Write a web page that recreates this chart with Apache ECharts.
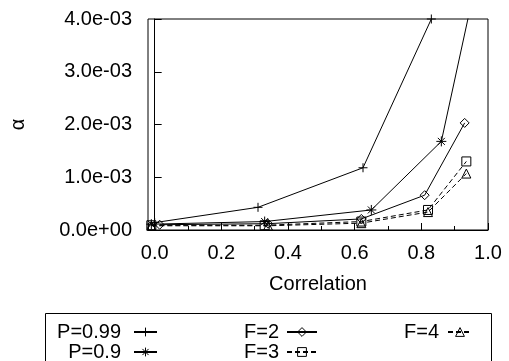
<!DOCTYPE html>
<html>
<head>
<meta charset="utf-8">
<script src="https://cdn.jsdelivr.net/npm/echarts@6/dist/echarts.min.js"></script>
<style>
html,body{margin:0;padding:0;background:#fff;}
#main{width:509px;height:361px;}
</style>
</head>
<body>
<div id="main"></div>
<script>
// ---- data ----
var seriesNames = ['P=0.99', 'P=0.9', 'F=2', 'F=3', 'F=4'];
var p099 = [[0.0, 1.4e-4], [0.31, 4.3e-4], [0.625, 1.18e-3], [0.83, 4.0e-3]];
var p09  = [[-0.01, 1.1e-4], [0.33, 1.6e-4], [0.65, 3.8e-4], [0.86, 1.68e-3], [0.95, 4.3e-3]];
var f2   = [[0.015, 1.0e-4], [0.34, 1.2e-4], [0.62, 2.1e-4], [0.81, 6.6e-4], [0.93, 2.03e-3]];
var f3   = [[-0.01, 9e-5], [0.33, 9e-5], [0.62, 1.6e-4], [0.82, 3.8e-4], [0.935, 1.3e-3]];
var f4   = [[-0.01, 8e-5], [0.34, 8e-5], [0.62, 1.3e-4], [0.82, 3.4e-4], [0.935, 1.07e-3]];
var yTickValues = [0, 1e-3, 2e-3, 3e-3, 4e-3];
var xTickLabels = ['0.0', '0.2', '0.4', '0.6', '0.8', '1.0'];

var FONT = '"Liberation Sans", Arial, Helvetica, sans-serif';
var FS = 20;
var SYM = {
  plus: 'path://M0,5L10,5M5,0L5,10',
  star: 'path://M0,5L10,5M5,0L5,10M1.5,1.5L8.5,8.5M1.5,8.5L8.5,1.5',
  diamond: 'path://M5,0L10,5L5,10L0,5Z',
  square: 'path://M0,0L10,0L10,10L0,10Z',
  triangle: 'path://M5,0L10,9L0,9Z'
};

function mkSeries(name, data, symbol, size, dashed) {
  return {
    name: name, type: 'line', data: data,
    symbol: symbol, symbolSize: size, clip: true,
    lineStyle: {color: '#000', width: 1, type: dashed ? [5, 3] : 'solid'},
    itemStyle: {color: 'rgba(0,0,0,0)', borderColor: '#000', borderWidth: 1},
    emphasis: {disabled: true},
    animation: false
  };
}

function yFmt(v) {
  var s = Number(v).toExponential(1);
  return s.replace(/e([+-])(\d)$/, 'e$10$2');
}

function mkLegend(name, right, top, w, gap) {
  return {
    data: [name], right: right, top: top, align: 'right', padding: 0,
    itemWidth: w, itemHeight: 11,
    itemStyle: {color: 'rgba(0,0,0,0)', borderColor: '#000', borderWidth: 1},
    textStyle: {fontFamily: FONT, fontSize: FS, color: '#000', padding: [0, gap, 0, 0]},
    selectedMode: false
  };
}

var chart = echarts.init(document.getElementById('main'), null, {renderer: 'canvas'});
chart.setOption({
  animation: false,
  backgroundColor: '#fff',
  grid: {left: 148, right: 21, top: 19, bottom: 131, show: true, borderColor: '#000', borderWidth: 1},
  xAxis: {
    type: 'value', min: -0.02, max: 1.0, splitNumber: 5,
    name: 'Correlation', nameLocation: 'middle', nameGap: 44,
    nameTextStyle: {fontFamily: FONT, fontSize: FS, color: '#000'},
    axisLine: {lineStyle: {color: '#000', width: 1}},
    axisTick: {inside: true, length: 7, lineStyle: {color: '#000'}},
    minorTick: {show: true, splitNumber: 2, length: 4, lineStyle: {color: '#000'}},
    splitLine: {show: false},
    axisLabel: {
      showMinLabel: false, margin: 13,
      fontFamily: FONT, fontSize: FS, color: '#000',
      formatter: function (v) {
        var s = Number(v).toFixed(1);
        return xTickLabels.indexOf(s) >= 0 ? s : '';
      }
    }
  },
  yAxis: {
    type: 'value', min: yTickValues[0], max: yTickValues[yTickValues.length - 1], interval: 1e-3,
    name: 'α', nameLocation: 'middle', nameGap: 120, nameRotate: 90,
    nameTextStyle: {fontFamily: FONT, fontSize: FS, color: '#000'},
    axisLine: {lineStyle: {color: '#000', width: 1}},
    axisTick: {inside: true, length: 7, lineStyle: {color: '#000'}},
    splitLine: {show: false},
    axisLabel: {margin: 16, fontFamily: FONT, fontSize: FS, color: '#000', formatter: yFmt}
  },
  legend: [
    mkLegend(seriesNames[0], 351, 322, 23, 8),
    mkLegend(seriesNames[1], 351, 342, 23, 8),
    mkLegend(seriesNames[2], 191, 322, 30, 3),
    mkLegend(seriesNames[3], 191, 342, 30, 3),
    mkLegend(seriesNames[4], 36, 322, 24, 4)
  ],
  graphic: [{
    type: 'rect', silent: true,
    shape: {x: 45.5, y: 313.5, width: 446, height: 60},
    style: {fill: 'none', stroke: '#000', lineWidth: 1}
  }],
  series: [
    mkSeries(seriesNames[0], p099, SYM.plus, 9, false),
    mkSeries(seriesNames[1], p09, SYM.star, 10, false),
    mkSeries(seriesNames[2], f2, SYM.diamond, 9, false),
    mkSeries(seriesNames[3], f3, SYM.square, 9, true),
    mkSeries(seriesNames[4], f4, SYM.triangle, 9, true)
  ]
});
</script>
</body>
</html>
